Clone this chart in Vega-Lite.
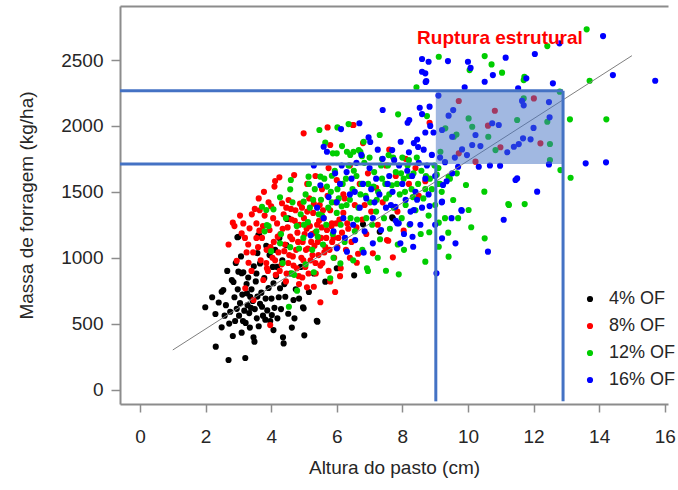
{
  "$schema": "https://vega.github.io/schema/vega-lite/v6.json",
  "width": 548,
  "height": 398,
  "padding": {"left": 120, "top": 6, "right": 10, "bottom": 86},
  "autosize": {"type": "none"},
  "background": "white",
  "config": {"view": {"stroke": null}, "font": "Liberation Sans"},
  "datasets": {
    "pts": [
      {"h":1.99,"m":624,"g":"4% OF"},{"h":2.30,"m":573,"g":"4% OF"},{"h":2.31,"m":325,"g":"4% OF"},{"h":2.49,"m":472,"g":"4% OF"},
      {"h":2.70,"m":224,"g":"4% OF"},{"h":3.21,"m":239,"g":"4% OF"},{"h":2.83,"m":406,"g":"4% OF"},{"h":3.10,"m":431,"g":"4% OF"},
      {"h":3.46,"m":396,"g":"4% OF"},{"h":3.49,"m":363,"g":"4% OF"},{"h":4.36,"m":396,"g":"4% OF"},{"h":4.38,"m":350,"g":"4% OF"},
      {"h":5.01,"m":411,"g":"4% OF"},{"h":5.41,"m":515,"g":"4% OF"},{"h":4.71,"m":540,"g":"4% OF"},{"h":2.54,"m":755,"g":"4% OF"},
      {"h":2.49,"m":742,"g":"4% OF"},{"h":2.80,"m":831,"g":"4% OF"},{"h":2.85,"m":816,"g":"4% OF"},{"h":2.97,"m":1155,"g":"4% OF"},
      {"h":3.61,"m":1172,"g":"4% OF"},{"h":4.48,"m":1294,"g":"4% OF"},{"h":3.15,"m":890,"g":"4% OF"},{"h":4.07,"m":806,"g":"4% OF"},
      {"h":4.27,"m":768,"g":"4% OF"},{"h":4.43,"m":704,"g":"4% OF"},{"h":4.02,"m":565,"g":"4% OF"},{"h":3.72,"m":628,"g":"4% OF"},
      {"h":3.56,"m":540,"g":"4% OF"},{"h":4.68,"m":679,"g":"4% OF"},{"h":4.97,"m":624,"g":"4% OF"},{"h":6.53,"m":866,"g":"4% OF"},
      {"h":6.00,"m":920,"g":"4% OF"},{"h":7.69,"m":1306,"g":"4% OF"},{"h":3.26,"m":730,"g":"4% OF"},{"h":3.36,"m":704,"g":"4% OF"},
      {"h":3.00,"m":894,"g":"4% OF"},{"h":3.10,"m":882,"g":"4% OF"},{"h":3.66,"m":957,"g":"4% OF"},{"h":4.46,"m":1096,"g":"4% OF"},
      {"h":5.65,"m":818,"g":"4% OF"},{"h":5.39,"m":522,"g":"4% OF"},{"h":4.99,"m":616,"g":"4% OF"},{"h":4.07,"m":451,"g":"4% OF"},
      {"h":2.62,"m":640,"g":"4% OF"},{"h":2.75,"m":590,"g":"4% OF"},{"h":2.88,"m":700,"g":"4% OF"},{"h":2.95,"m":612,"g":"4% OF"},
      {"h":3.02,"m":560,"g":"4% OF"},{"h":3.05,"m":655,"g":"4% OF"},{"h":3.12,"m":720,"g":"4% OF"},{"h":3.18,"m":598,"g":"4% OF"},
      {"h":3.22,"m":505,"g":"4% OF"},{"h":3.28,"m":640,"g":"4% OF"},{"h":3.33,"m":580,"g":"4% OF"},{"h":3.40,"m":760,"g":"4% OF"},
      {"h":3.44,"m":672,"g":"4% OF"},{"h":3.50,"m":610,"g":"4% OF"},{"h":3.53,"m":820,"g":"4% OF"},{"h":3.58,"m":705,"g":"4% OF"},
      {"h":3.62,"m":480,"g":"4% OF"},{"h":3.66,"m":650,"g":"4% OF"},{"h":3.70,"m":735,"g":"4% OF"},{"h":3.75,"m":560,"g":"4% OF"},
      {"h":3.79,"m":845,"g":"4% OF"},{"h":3.83,"m":690,"g":"4% OF"},{"h":3.88,"m":600,"g":"4% OF"},{"h":3.92,"m":770,"g":"4% OF"},
      {"h":3.97,"m":520,"g":"4% OF"},{"h":4.01,"m":690,"g":"4% OF"},{"h":4.05,"m":930,"g":"4% OF"},{"h":4.10,"m":620,"g":"4% OF"},
      {"h":4.15,"m":860,"g":"4% OF"},{"h":4.19,"m":540,"g":"4% OF"},{"h":4.23,"m":700,"g":"4% OF"},{"h":4.30,"m":610,"g":"4% OF"},
      {"h":4.34,"m":980,"g":"4% OF"},{"h":4.40,"m":800,"g":"4% OF"},{"h":4.52,"m":575,"g":"4% OF"},{"h":4.58,"m":880,"g":"4% OF"},
      {"h":4.63,"m":470,"g":"4% OF"},{"h":4.75,"m":760,"g":"4% OF"},{"h":4.85,"m":690,"g":"4% OF"},{"h":2.72,"m":500,"g":"4% OF"},
      {"h":2.58,"m":560,"g":"4% OF"},{"h":2.66,"m":900,"g":"4% OF"},{"h":2.92,"m":960,"g":"4% OF"},{"h":3.08,"m":1010,"g":"4% OF"},
      {"h":3.30,"m":850,"g":"4% OF"},{"h":3.47,"m":935,"g":"4% OF"},{"h":3.35,"m":470,"g":"4% OF"},{"h":3.14,"m":520,"g":"4% OF"},
      {"h":2.90,"m":520,"g":"4% OF"},{"h":3.95,"m":1020,"g":"4% OF"},{"h":4.12,"m":1060,"g":"4% OF"},{"h":4.25,"m":1150,"g":"4% OF"},
      {"h":3.85,"m":1090,"g":"4% OF"},{"h":3.58,"m":1035,"g":"4% OF"},{"h":5.15,"m":740,"g":"4% OF"},{"h":5.30,"m":880,"g":"4% OF"},
      {"h":4.90,"m":930,"g":"4% OF"},{"h":3.25,"m":800,"g":"4% OF"},{"h":2.40,"m":660,"g":"4% OF"},{"h":2.20,"m":700,"g":"4% OF"},
      {"h":6.80,"m":1253,"g":"4% OF"},{"h":7.31,"m":1197,"g":"4% OF"},{"h":7.71,"m":1299,"g":"4% OF"},{"h":4.53,"m":1299,"g":"4% OF"},
      {"h":3.00,"m":1159,"g":"4% OF"},{"h":3.64,"m":1167,"g":"4% OF"},{"h":3.38,"m":620,"g":"4% OF"},{"h":3.82,"m":530,"g":"4% OF"},
      {"h":2.98,"m":760,"g":"4% OF"},{"h":3.55,"m":880,"g":"4% OF"},{"h":4.18,"m":930,"g":"4% OF"},

      {"h":4.99,"m":1944,"g":"8% OF"},{"h":4.12,"m":1582,"g":"8% OF"},{"h":4.70,"m":1627,"g":"8% OF"},{"h":2.83,"m":1266,"g":"8% OF"},
      {"h":3.41,"m":1329,"g":"8% OF"},{"h":3.34,"m":1223,"g":"8% OF"},{"h":3.64,"m":1205,"g":"8% OF"},{"h":4.33,"m":1413,"g":"8% OF"},
      {"h":4.53,"m":1438,"g":"8% OF"},{"h":5.72,"m":1989,"g":"8% OF"},{"h":6.51,"m":2007,"g":"8% OF"},{"h":5.80,"m":1855,"g":"8% OF"},
      {"h":3.10,"m":1185,"g":"8% OF"},{"h":2.95,"m":977,"g":"8% OF"},{"h":3.21,"m":768,"g":"8% OF"},{"h":3.97,"m":489,"g":"8% OF"},
      {"h":5.50,"m":662,"g":"8% OF"},{"h":5.09,"m":775,"g":"8% OF"},{"h":6.61,"m":962,"g":"8% OF"},{"h":7.71,"m":1003,"g":"8% OF"},
      {"h":7.10,"m":1033,"g":"8% OF"},{"h":7.57,"m":1129,"g":"8% OF"},{"h":8.04,"m":1205,"g":"8% OF"},{"h":8.50,"m":1470,"g":"8% OF"},
      {"h":7.53,"m":1134,"g":"8% OF"},{"h":9.72,"m":2189,"g":"8% OF"},{"h":10.82,"m":2115,"g":"8% OF"},{"h":10.61,"m":2002,"g":"8% OF"},
      {"h":10.99,"m":1838,"g":"8% OF"},{"h":9.72,"m":1792,"g":"8% OF"},{"h":12.21,"m":1868,"g":"8% OF"},{"h":12.01,"m":2209,"g":"8% OF"},
      {"h":10.23,"m":1729,"g":"8% OF"},{"h":8.83,"m":2024,"g":"8% OF"},{"h":6.49,"m":2007,"g":"8% OF"},{"h":3.31,"m":962,"g":"8% OF"},
      {"h":3.76,"m":831,"g":"8% OF"},{"h":3.87,"m":920,"g":"8% OF"},{"h":3.46,"m":679,"g":"8% OF"},{"h":5.85,"m":1261,"g":"8% OF"},
      {"h":3.30,"m":1100,"g":"8% OF"},{"h":3.45,"m":1040,"g":"8% OF"},{"h":3.55,"m":1260,"g":"8% OF"},{"h":3.68,"m":980,"g":"8% OF"},
      {"h":3.72,"m":1150,"g":"8% OF"},{"h":3.80,"m":1320,"g":"8% OF"},{"h":3.86,"m":1060,"g":"8% OF"},{"h":3.90,"m":900,"g":"8% OF"},
      {"h":3.95,"m":1210,"g":"8% OF"},{"h":4.00,"m":1390,"g":"8% OF"},{"h":4.04,"m":1000,"g":"8% OF"},{"h":4.08,"m":1120,"g":"8% OF"},
      {"h":4.14,"m":870,"g":"8% OF"},{"h":4.18,"m":1260,"g":"8% OF"},{"h":4.22,"m":1040,"g":"8% OF"},{"h":4.28,"m":1180,"g":"8% OF"},
      {"h":4.32,"m":950,"g":"8% OF"},{"h":4.38,"m":1330,"g":"8% OF"},{"h":4.42,"m":1100,"g":"8% OF"},{"h":4.47,"m":880,"g":"8% OF"},
      {"h":4.50,"m":1230,"g":"8% OF"},{"h":4.55,"m":1020,"g":"8% OF"},{"h":4.60,"m":1370,"g":"8% OF"},{"h":4.64,"m":1140,"g":"8% OF"},
      {"h":4.68,"m":940,"g":"8% OF"},{"h":4.72,"m":1280,"g":"8% OF"},{"h":4.76,"m":1060,"g":"8% OF"},{"h":4.80,"m":1190,"g":"8% OF"},
      {"h":4.84,"m":860,"g":"8% OF"},{"h":4.88,"m":1410,"g":"8% OF"},{"h":4.92,"m":1000,"g":"8% OF"},{"h":4.96,"m":1120,"g":"8% OF"},
      {"h":5.00,"m":1300,"g":"8% OF"},{"h":5.04,"m":930,"g":"8% OF"},{"h":5.08,"m":1220,"g":"8% OF"},{"h":5.12,"m":1070,"g":"8% OF"},
      {"h":5.16,"m":1450,"g":"8% OF"},{"h":5.20,"m":980,"g":"8% OF"},{"h":5.24,"m":1180,"g":"8% OF"},{"h":5.28,"m":1340,"g":"8% OF"},
      {"h":5.32,"m":1090,"g":"8% OF"},{"h":5.36,"m":880,"g":"8% OF"},{"h":5.40,"m":1250,"g":"8% OF"},{"h":5.44,"m":1020,"g":"8% OF"},
      {"h":5.48,"m":1400,"g":"8% OF"},{"h":5.52,"m":1150,"g":"8% OF"},{"h":5.56,"m":960,"g":"8% OF"},{"h":5.60,"m":1300,"g":"8% OF"},
      {"h":5.65,"m":1080,"g":"8% OF"},{"h":5.70,"m":1210,"g":"8% OF"},{"h":5.75,"m":900,"g":"8% OF"},{"h":5.80,"m":1360,"g":"8% OF"},
      {"h":5.86,"m":1120,"g":"8% OF"},{"h":5.92,"m":1000,"g":"8% OF"},{"h":5.98,"m":1260,"g":"8% OF"},{"h":6.05,"m":1150,"g":"8% OF"},
      {"h":6.12,"m":920,"g":"8% OF"},{"h":6.20,"m":1340,"g":"8% OF"},{"h":6.28,"m":1060,"g":"8% OF"},{"h":6.35,"m":1220,"g":"8% OF"},
      {"h":6.45,"m":1120,"g":"8% OF"},{"h":6.55,"m":1400,"g":"8% OF"},{"h":6.65,"m":1030,"g":"8% OF"},{"h":6.78,"m":1290,"g":"8% OF"},
      {"h":6.90,"m":1180,"g":"8% OF"},{"h":7.05,"m":1350,"g":"8% OF"},{"h":7.25,"m":1250,"g":"8% OF"},{"h":7.40,"m":1420,"g":"8% OF"},
      {"h":7.85,"m":1350,"g":"8% OF"},{"h":8.20,"m":1560,"g":"8% OF"},{"h":2.88,"m":1240,"g":"8% OF"},{"h":3.05,"m":1320,"g":"8% OF"},
      {"h":3.20,"m":1150,"g":"8% OF"},{"h":3.25,"m":1040,"g":"8% OF"},{"h":3.50,"m":1370,"g":"8% OF"},{"h":3.62,"m":1450,"g":"8% OF"},
      {"h":3.78,"m":1500,"g":"8% OF"},{"h":3.92,"m":1420,"g":"8% OF"},{"h":4.10,"m":1540,"g":"8% OF"},{"h":4.25,"m":1610,"g":"8% OF"},
      {"h":3.40,"m":900,"g":"8% OF"},{"h":3.15,"m":1260,"g":"8% OF"},{"h":2.70,"m":1100,"g":"8% OF"},{"h":5.30,"m":780,"g":"8% OF"},
      {"h":5.80,"m":820,"g":"8% OF"},{"h":6.10,"m":860,"g":"8% OF"},{"h":4.85,"m":800,"g":"8% OF"},{"h":5.95,"m":740,"g":"8% OF"},
      {"h":5.10,"m":1560,"g":"8% OF"},{"h":5.35,"m":1620,"g":"8% OF"},{"h":5.55,"m":1520,"g":"8% OF"},{"h":5.75,"m":1680,"g":"8% OF"},
      {"h":6.00,"m":1590,"g":"8% OF"},{"h":6.20,"m":1480,"g":"8% OF"},{"h":6.40,"m":1700,"g":"8% OF"},{"h":6.70,"m":1560,"g":"8% OF"},
      {"h":6.95,"m":1640,"g":"8% OF"},{"h":7.20,"m":1530,"g":"8% OF"},{"h":7.50,"m":1700,"g":"8% OF"},{"h":7.80,"m":1620,"g":"8% OF"},
      {"h":8.10,"m":1750,"g":"8% OF"},{"h":8.40,"m":1680,"g":"8% OF"},{"h":8.70,"m":1580,"g":"8% OF"},{"h":7.60,"m":1820,"g":"8% OF"},
      {"h":6.80,"m":1870,"g":"8% OF"},{"h":3.60,"m":1080,"g":"8% OF"},{"h":3.75,"m":1240,"g":"8% OF"},{"h":3.85,"m":960,"g":"8% OF"},
      {"h":3.98,"m":1080,"g":"8% OF"},{"h":4.06,"m":1300,"g":"8% OF"},{"h":4.12,"m":980,"g":"8% OF"},{"h":4.20,"m":1160,"g":"8% OF"},
      {"h":4.26,"m":900,"g":"8% OF"},{"h":4.35,"m":1220,"g":"8% OF"},{"h":4.40,"m":1050,"g":"8% OF"},{"h":4.46,"m":1380,"g":"8% OF"},
      {"h":4.52,"m":960,"g":"8% OF"},{"h":4.58,"m":1160,"g":"8% OF"},{"h":4.62,"m":1290,"g":"8% OF"},{"h":4.66,"m":1010,"g":"8% OF"},
      {"h":4.74,"m":1360,"g":"8% OF"},{"h":4.78,"m":920,"g":"8% OF"},{"h":4.82,"m":1120,"g":"8% OF"},{"h":4.86,"m":1250,"g":"8% OF"},
      {"h":4.94,"m":1380,"g":"8% OF"},{"h":4.98,"m":980,"g":"8% OF"},{"h":5.02,"m":1180,"g":"8% OF"},{"h":5.06,"m":1060,"g":"8% OF"},
      {"h":5.10,"m":1350,"g":"8% OF"},{"h":5.14,"m":880,"g":"8% OF"},{"h":5.18,"m":1240,"g":"8% OF"},{"h":5.22,"m":1120,"g":"8% OF"},
      {"h":5.26,"m":1020,"g":"8% OF"},{"h":5.30,"m":1410,"g":"8% OF"},{"h":5.34,"m":1190,"g":"8% OF"},{"h":5.42,"m":1120,"g":"8% OF"},
      {"h":5.46,"m":1280,"g":"8% OF"},{"h":5.50,"m":940,"g":"8% OF"},{"h":5.54,"m":1230,"g":"8% OF"},{"h":5.58,"m":1360,"g":"8% OF"},
      {"h":5.62,"m":1040,"g":"8% OF"},{"h":5.68,"m":1150,"g":"8% OF"},{"h":5.72,"m":1470,"g":"8% OF"},{"h":5.78,"m":1060,"g":"8% OF"},
      {"h":5.84,"m":1240,"g":"8% OF"},{"h":5.90,"m":1150,"g":"8% OF"},{"h":5.96,"m":1420,"g":"8% OF"},{"h":6.02,"m":1080,"g":"8% OF"},
      {"h":6.08,"m":1290,"g":"8% OF"},{"h":6.16,"m":1190,"g":"8% OF"},{"h":6.24,"m":1450,"g":"8% OF"},{"h":6.32,"m":1260,"g":"8% OF"},
      {"h":6.40,"m":1000,"g":"8% OF"},{"h":6.60,"m":1230,"g":"8% OF"},{"h":6.85,"m":1400,"g":"8% OF"},{"h":4.45,"m":820,"g":"8% OF"},
      {"h":4.95,"m":850,"g":"8% OF"},{"h":5.35,"m":960,"g":"8% OF"},{"h":3.55,"m":1150,"g":"8% OF"},{"h":3.65,"m":1360,"g":"8% OF"},

      {"h":13.62,"m":2733,"g":"12% OF"},{"h":12.42,"m":2606,"g":"12% OF"},{"h":10.51,"m":2530,"g":"12% OF"},{"h":10.72,"m":2467,"g":"12% OF"},
      {"h":9.11,"m":2525,"g":"12% OF"},{"h":10.05,"m":2424,"g":"12% OF"},{"h":11.04,"m":2404,"g":"12% OF"},{"h":11.70,"m":2348,"g":"12% OF"},
      {"h":11.72,"m":2372,"g":"12% OF"},{"h":13.71,"m":2343,"g":"12% OF"},{"h":13.11,"m":2050,"g":"12% OF"},{"h":14.22,"m":2050,"g":"12% OF"},
      {"h":12.82,"m":1665,"g":"12% OF"},{"h":13.13,"m":1607,"g":"12% OF"},{"h":11.25,"m":1400,"g":"12% OF"},{"h":11.73,"m":1407,"g":"12% OF"},
      {"h":10.51,"m":1147,"g":"12% OF"},{"h":10.10,"m":1231,"g":"12% OF"},{"h":9.41,"m":1008,"g":"12% OF"},{"h":8.70,"m":970,"g":"12% OF"},
      {"h":9.11,"m":1083,"g":"12% OF"},{"h":7.89,"m":874,"g":"12% OF"},{"h":7.50,"m":901,"g":"12% OF"},{"h":8.82,"m":1193,"g":"12% OF"},
      {"h":9.11,"m":1266,"g":"12% OF"},{"h":10.02,"m":1362,"g":"12% OF"},{"h":10.02,"m":2057,"g":"12% OF"},{"h":9.57,"m":1918,"g":"12% OF"},
      {"h":9.65,"m":1935,"g":"12% OF"},{"h":9.31,"m":1982,"g":"12% OF"},{"h":10.62,"m":1918,"g":"12% OF"},{"h":11.50,"m":2045,"g":"12% OF"},
      {"h":12.42,"m":2032,"g":"12% OF"},{"h":12.50,"m":1863,"g":"12% OF"},{"h":11.70,"m":2209,"g":"12% OF"},{"h":12.80,"m":2260,"g":"12% OF"},
      {"h":10.84,"m":1817,"g":"12% OF"},{"h":10.13,"m":1994,"g":"12% OF"},{"h":9.16,"m":1804,"g":"12% OF"},{"h":12.50,"m":1741,"g":"12% OF"},
      {"h":5.47,"m":1969,"g":"12% OF"},{"h":6.02,"m":1989,"g":"12% OF"},{"h":6.36,"m":2014,"g":"12% OF"},{"h":5.65,"m":1873,"g":"12% OF"},
      {"h":6.00,"m":1792,"g":"12% OF"},{"h":6.16,"m":1847,"g":"12% OF"},{"h":6.31,"m":1804,"g":"12% OF"},{"h":6.51,"m":1804,"g":"12% OF"},
      {"h":6.72,"m":1804,"g":"12% OF"},{"h":7.87,"m":2088,"g":"12% OF"},{"h":8.75,"m":2075,"g":"12% OF"},{"h":7.31,"m":1931,"g":"12% OF"},
      {"h":6.82,"m":1880,"g":"12% OF"},{"h":8.43,"m":2293,"g":"12% OF"},{"h":5.88,"m":1792,"g":"12% OF"},{"h":6.41,"m":1780,"g":"12% OF"},
      {"h":6.67,"m":1817,"g":"12% OF"},{"h":6.77,"m":1770,"g":"12% OF"},{"h":7.38,"m":1749,"g":"12% OF"},{"h":7.58,"m":1779,"g":"12% OF"},
      {"h":8.00,"m":1760,"g":"12% OF"},{"h":8.20,"m":1740,"g":"12% OF"},{"h":4.60,"m":1590,"g":"12% OF"},{"h":4.58,"m":1519,"g":"12% OF"},
      {"h":4.27,"m":1458,"g":"12% OF"},{"h":3.72,"m":1387,"g":"12% OF"},{"h":4.07,"m":1367,"g":"12% OF"},{"h":3.87,"m":1248,"g":"12% OF"},
      {"h":5.14,"m":1615,"g":"12% OF"},{"h":5.50,"m":1615,"g":"12% OF"},{"h":5.85,"m":1622,"g":"12% OF"},{"h":4.99,"m":1425,"g":"12% OF"},
      {"h":4.30,"m":1180,"g":"12% OF"},{"h":4.45,"m":1300,"g":"12% OF"},{"h":4.58,"m":1080,"g":"12% OF"},{"h":4.65,"m":1420,"g":"12% OF"},
      {"h":4.78,"m":1240,"g":"12% OF"},{"h":4.90,"m":1330,"g":"12% OF"},{"h":4.98,"m":1150,"g":"12% OF"},{"h":5.05,"m":1480,"g":"12% OF"},
      {"h":5.12,"m":1270,"g":"12% OF"},{"h":5.18,"m":1380,"g":"12% OF"},{"h":5.25,"m":1060,"g":"12% OF"},{"h":5.33,"m":1520,"g":"12% OF"},
      {"h":5.38,"m":1200,"g":"12% OF"},{"h":5.45,"m":1330,"g":"12% OF"},{"h":5.52,"m":1440,"g":"12% OF"},{"h":5.58,"m":1100,"g":"12% OF"},
      {"h":5.62,"m":1600,"g":"12% OF"},{"h":5.68,"m":1250,"g":"12% OF"},{"h":5.74,"m":1380,"g":"12% OF"},{"h":5.82,"m":1500,"g":"12% OF"},
      {"h":5.88,"m":1180,"g":"12% OF"},{"h":5.94,"m":1660,"g":"12% OF"},{"h":6.00,"m":1340,"g":"12% OF"},{"h":6.06,"m":1450,"g":"12% OF"},
      {"h":6.12,"m":1250,"g":"12% OF"},{"h":6.18,"m":1560,"g":"12% OF"},{"h":6.24,"m":1120,"g":"12% OF"},{"h":6.30,"m":1400,"g":"12% OF"},
      {"h":6.36,"m":1700,"g":"12% OF"},{"h":6.42,"m":1300,"g":"12% OF"},{"h":6.48,"m":1520,"g":"12% OF"},{"h":6.55,"m":1200,"g":"12% OF"},
      {"h":6.60,"m":1620,"g":"12% OF"},{"h":6.66,"m":1380,"g":"12% OF"},{"h":6.72,"m":1480,"g":"12% OF"},{"h":6.78,"m":1060,"g":"12% OF"},
      {"h":6.84,"m":1720,"g":"12% OF"},{"h":6.90,"m":1300,"g":"12% OF"},{"h":6.96,"m":1560,"g":"12% OF"},{"h":7.02,"m":1420,"g":"12% OF"},
      {"h":7.08,"m":1250,"g":"12% OF"},{"h":7.14,"m":1650,"g":"12% OF"},{"h":7.20,"m":1350,"g":"12% OF"},{"h":7.26,"m":1500,"g":"12% OF"},
      {"h":7.32,"m":1140,"g":"12% OF"},{"h":7.38,"m":1600,"g":"12% OF"},{"h":7.44,"m":1300,"g":"12% OF"},{"h":7.50,"m":1450,"g":"12% OF"},
      {"h":7.56,"m":1700,"g":"12% OF"},{"h":7.62,"m":1220,"g":"12% OF"},{"h":7.68,"m":1550,"g":"12% OF"},{"h":7.74,"m":1380,"g":"12% OF"},
      {"h":7.80,"m":1650,"g":"12% OF"},{"h":7.86,"m":1100,"g":"12% OF"},{"h":7.92,"m":1480,"g":"12% OF"},{"h":7.98,"m":1300,"g":"12% OF"},
      {"h":8.04,"m":1600,"g":"12% OF"},{"h":8.10,"m":1400,"g":"12% OF"},{"h":8.16,"m":1700,"g":"12% OF"},{"h":8.22,"m":1250,"g":"12% OF"},
      {"h":8.28,"m":1520,"g":"12% OF"},{"h":8.34,"m":1640,"g":"12% OF"},{"h":8.40,"m":1360,"g":"12% OF"},{"h":8.48,"m":1560,"g":"12% OF"},
      {"h":8.56,"m":1180,"g":"12% OF"},{"h":8.64,"m":1450,"g":"12% OF"},{"h":8.72,"m":1620,"g":"12% OF"},{"h":8.80,"m":1320,"g":"12% OF"},
      {"h":8.90,"m":1520,"g":"12% OF"},{"h":9.00,"m":1400,"g":"12% OF"},{"h":9.10,"m":1680,"g":"12% OF"},{"h":9.20,"m":1500,"g":"12% OF"},
      {"h":9.30,"m":1300,"g":"12% OF"},{"h":9.45,"m":1600,"g":"12% OF"},{"h":9.40,"m":1190,"g":"12% OF"},{"h":9.70,"m":1300,"g":"12% OF"},
      {"h":8.05,"m":1060,"g":"12% OF"},{"h":7.25,"m":1000,"g":"12% OF"},{"h":6.50,"m":980,"g":"12% OF"},{"h":5.90,"m":1000,"g":"12% OF"},
      {"h":6.95,"m":900,"g":"12% OF"},{"h":4.00,"m":1050,"g":"12% OF"},{"h":4.35,"m":960,"g":"12% OF"},{"h":4.70,"m":870,"g":"12% OF"},
      {"h":5.05,"m":950,"g":"12% OF"},{"h":3.80,"m":1200,"g":"12% OF"},{"h":5.30,"m":890,"g":"12% OF"},{"h":4.85,"m":1070,"g":"12% OF"},
      {"h":4.54,"m":628,"g":"12% OF"},{"h":4.79,"m":750,"g":"12% OF"},{"h":4.63,"m":882,"g":"12% OF"},{"h":5.80,"m":844,"g":"12% OF"},
      {"h":6.11,"m":957,"g":"12% OF"},{"h":6.92,"m":920,"g":"12% OF"},{"h":4.27,"m":1109,"g":"12% OF"},{"h":3.85,"m":1362,"g":"12% OF"},
      {"h":3.92,"m":1240,"g":"12% OF"},{"h":5.00,"m":1250,"g":"12% OF"},{"h":5.15,"m":1560,"g":"12% OF"},{"h":5.28,"m":1440,"g":"12% OF"},
      {"h":5.42,"m":1160,"g":"12% OF"},{"h":5.55,"m":1320,"g":"12% OF"},{"h":5.70,"m":1540,"g":"12% OF"},{"h":5.85,"m":1420,"g":"12% OF"},
      {"h":6.02,"m":1520,"g":"12% OF"},{"h":6.15,"m":1390,"g":"12% OF"},{"h":6.28,"m":1600,"g":"12% OF"},{"h":6.40,"m":1440,"g":"12% OF"},
      {"h":6.52,"m":1660,"g":"12% OF"},{"h":6.62,"m":1290,"g":"12% OF"},{"h":6.75,"m":1560,"g":"12% OF"},{"h":6.88,"m":1470,"g":"12% OF"},
      {"h":7.00,"m":1760,"g":"12% OF"},{"h":7.12,"m":1540,"g":"12% OF"},{"h":7.22,"m":1440,"g":"12% OF"},{"h":7.35,"m":1700,"g":"12% OF"},
      {"h":7.48,"m":1560,"g":"12% OF"},{"h":7.60,"m":1480,"g":"12% OF"},{"h":7.72,"m":1760,"g":"12% OF"},{"h":7.84,"m":1560,"g":"12% OF"},
      {"h":7.96,"m":1640,"g":"12% OF"},{"h":8.08,"m":1500,"g":"12% OF"},{"h":8.20,"m":1620,"g":"12% OF"},{"h":8.32,"m":1460,"g":"12% OF"},
      {"h":8.44,"m":1760,"g":"12% OF"},{"h":8.58,"m":1660,"g":"12% OF"},{"h":8.70,"m":1520,"g":"12% OF"},{"h":8.84,"m":1600,"g":"12% OF"},
      {"h":8.98,"m":1700,"g":"12% OF"},{"h":9.15,"m":1560,"g":"12% OF"},{"h":9.41,"m":1614,"g":"12% OF"},{"h":9.66,"m":1640,"g":"12% OF"},
      {"h":9.94,"m":1552,"g":"12% OF"},{"h":10.50,"m":1501,"g":"12% OF"},{"h":11.23,"m":1407,"g":"12% OF"},{"h":9.55,"m":1438,"g":"12% OF"},
      {"h":9.05,"m":1630,"g":"12% OF"},{"h":9.10,"m":1560,"g":"12% OF"},

      {"h":15.71,"m":2343,"g":"16% OF"},{"h":14.12,"m":2682,"g":"16% OF"},{"h":14.42,"m":2386,"g":"16% OF"},{"h":12.79,"m":2627,"g":"16% OF"},
      {"h":12.04,"m":2546,"g":"16% OF"},{"h":11.15,"m":2518,"g":"16% OF"},{"h":8.60,"m":2508,"g":"16% OF"},{"h":8.80,"m":2487,"g":"16% OF"},
      {"h":9.39,"m":2492,"g":"16% OF"},{"h":10.00,"m":2487,"g":"16% OF"},{"h":10.08,"m":2440,"g":"16% OF"},{"h":8.60,"m":2411,"g":"16% OF"},
      {"h":8.70,"m":2399,"g":"16% OF"},{"h":8.73,"m":2341,"g":"16% OF"},{"h":10.51,"m":2335,"g":"16% OF"},{"h":10.76,"m":2386,"g":"16% OF"},
      {"h":11.78,"m":2361,"g":"16% OF"},{"h":12.59,"m":2323,"g":"16% OF"},{"h":9.90,"m":2293,"g":"16% OF"},{"h":11.53,"m":2285,"g":"16% OF"},
      {"h":13.59,"m":1716,"g":"16% OF"},{"h":14.21,"m":1724,"g":"16% OF"},{"h":11.45,"m":1590,"g":"16% OF"},{"h":11.50,"m":1602,"g":"16% OF"},
      {"h":12.11,"m":1501,"g":"16% OF"},{"h":11.09,"m":1288,"g":"16% OF"},{"h":10.61,"m":1046,"g":"16% OF"},{"h":9.62,"m":1109,"g":"16% OF"},
      {"h":9.21,"m":1147,"g":"16% OF"},{"h":8.33,"m":1083,"g":"16% OF"},{"h":8.31,"m":1159,"g":"16% OF"},{"h":9.80,"m":1362,"g":"16% OF"},
      {"h":7.94,"m":1109,"g":"16% OF"},{"h":7.89,"m":1261,"g":"16% OF"},{"h":8.24,"m":1256,"g":"16% OF"},{"h":9.04,"m":882,"g":"16% OF"},
      {"h":7.40,"m":2121,"g":"16% OF"},{"h":8.53,"m":2138,"g":"16% OF"},{"h":8.83,"m":2146,"g":"16% OF"},{"h":8.21,"m":2045,"g":"16% OF"},
      {"h":8.16,"m":2024,"g":"16% OF"},{"h":6.69,"m":2020,"g":"16% OF"},{"h":6.13,"m":1976,"g":"16% OF"},{"h":6.97,"m":1913,"g":"16% OF"},
      {"h":7.02,"m":1878,"g":"16% OF"},{"h":7.69,"m":1817,"g":"16% OF"},{"h":8.45,"m":1897,"g":"16% OF"},{"h":8.35,"m":1870,"g":"16% OF"},
      {"h":8.48,"m":1840,"g":"16% OF"},{"h":8.71,"m":2333,"g":"16% OF"},{"h":5.60,"m":1842,"g":"16% OF"},{"h":5.70,"m":1804,"g":"16% OF"},
      {"h":8.85,"m":2000,"g":"16% OF"},{"h":8.95,"m":1950,"g":"16% OF"},{"h":8.70,"m":1950,"g":"16% OF"},{"h":8.60,"m":2090,"g":"16% OF"},
      {"h":9.41,"m":2078,"g":"16% OF"},{"h":9.21,"m":1969,"g":"16% OF"},{"h":9.52,"m":1918,"g":"16% OF"},{"h":9.82,"m":1822,"g":"16% OF"},
      {"h":10.13,"m":1855,"g":"16% OF"},{"h":10.38,"m":1847,"g":"16% OF"},{"h":10.23,"m":1931,"g":"16% OF"},{"h":10.74,"m":2020,"g":"16% OF"},
      {"h":10.94,"m":2007,"g":"16% OF"},{"h":11.40,"m":1842,"g":"16% OF"},{"h":11.55,"m":1862,"g":"16% OF"},{"h":11.68,"m":1906,"g":"16% OF"},
      {"h":11.91,"m":1898,"g":"16% OF"},{"h":12.47,"m":2181,"g":"16% OF"},{"h":12.49,"m":2065,"g":"16% OF"},{"h":11.70,"m":2156,"g":"16% OF"},
      {"h":11.65,"m":2190,"g":"16% OF"},{"h":9.97,"m":1779,"g":"16% OF"},{"h":9.60,"m":1760,"g":"16% OF"},{"h":12.47,"m":1708,"g":"16% OF"},
      {"h":9.30,"m":1725,"g":"16% OF"},{"h":9.10,"m":2230,"g":"16% OF"},{"h":9.55,"m":2120,"g":"16% OF"},{"h":12.00,"m":1985,"g":"16% OF"},
      {"h":11.20,"m":1800,"g":"16% OF"},{"h":9.15,"m":1760,"g":"16% OF"},{"h":10.33,"m":1690,"g":"16% OF"},{"h":10.67,"m":1700,"g":"16% OF"},
      {"h":10.98,"m":1698,"g":"16% OF"},{"h":9.70,"m":1690,"g":"16% OF"},{"h":9.24,"m":1552,"g":"16% OF"},{"h":9.52,"m":1640,"g":"16% OF"},
      {"h":9.81,"m":1357,"g":"16% OF"},{"h":8.83,"m":1392,"g":"16% OF"},{"h":9.21,"m":1425,"g":"16% OF"},{"h":7.79,"m":1387,"g":"16% OF"},
      {"h":8.35,"m":1362,"g":"16% OF"},{"h":7.84,"m":1261,"g":"16% OF"},{"h":7.10,"m":1109,"g":"16% OF"},{"h":6.82,"m":1038,"g":"16% OF"},
      {"h":6.31,"m":1046,"g":"16% OF"},{"h":6.56,"m":1134,"g":"16% OF"},{"h":6.00,"m":1071,"g":"16% OF"},
      {"h":6.00,"m":1420,"g":"16% OF"},{"h":6.10,"m":1560,"g":"16% OF"},{"h":6.20,"m":1300,"g":"16% OF"},{"h":6.30,"m":1650,"g":"16% OF"},
      {"h":6.40,"m":1480,"g":"16% OF"},{"h":6.50,"m":1250,"g":"16% OF"},{"h":6.60,"m":1720,"g":"16% OF"},{"h":6.70,"m":1380,"g":"16% OF"},
      {"h":6.80,"m":1560,"g":"16% OF"},{"h":6.90,"m":1450,"g":"16% OF"},{"h":7.00,"m":1680,"g":"16% OF"},{"h":7.10,"m":1300,"g":"16% OF"},
      {"h":7.20,"m":1600,"g":"16% OF"},{"h":7.30,"m":1480,"g":"16% OF"},{"h":7.40,"m":1750,"g":"16% OF"},{"h":7.50,"m":1380,"g":"16% OF"},
      {"h":7.60,"m":1620,"g":"16% OF"},{"h":7.70,"m":1500,"g":"16% OF"},{"h":7.80,"m":1280,"g":"16% OF"},{"h":7.90,"m":1700,"g":"16% OF"},
      {"h":8.00,"m":1560,"g":"16% OF"},{"h":8.10,"m":1440,"g":"16% OF"},{"h":8.20,"m":1800,"g":"16% OF"},{"h":8.30,"m":1620,"g":"16% OF"},
      {"h":8.40,"m":1500,"g":"16% OF"},{"h":8.50,"m":1720,"g":"16% OF"},{"h":8.60,"m":1380,"g":"16% OF"},{"h":8.70,"m":1600,"g":"16% OF"},
      {"h":8.80,"m":1480,"g":"16% OF"},{"h":8.90,"m":1780,"g":"16% OF"},{"h":9.00,"m":1620,"g":"16% OF"},{"h":9.20,"m":1420,"g":"16% OF"},
      {"h":9.35,"m":1580,"g":"16% OF"},{"h":5.60,"m":1300,"g":"16% OF"},{"h":5.75,"m":1460,"g":"16% OF"},{"h":5.90,"m":1200,"g":"16% OF"},
      {"h":5.40,"m":1380,"g":"16% OF"},{"h":6.25,"m":1150,"g":"16% OF"},{"h":6.85,"m":1200,"g":"16% OF"},{"h":7.35,"m":1210,"g":"16% OF"},
      {"h":8.05,"m":1180,"g":"16% OF"},{"h":8.55,"m":1250,"g":"16% OF"},{"h":9.50,"m":1300,"g":"16% OF"},{"h":9.00,"m":1250,"g":"16% OF"},
      {"h":5.20,"m":1170,"g":"16% OF"},{"h":5.50,"m":1550,"g":"16% OF"},{"h":6.45,"m":1600,"g":"16% OF"},{"h":7.05,"m":1520,"g":"16% OF"},
      {"h":7.65,"m":1400,"g":"16% OF"},{"h":8.25,"m":1350,"g":"16% OF"},{"h":8.75,"m":1700,"g":"16% OF"},{"h":6.15,"m":1700,"g":"16% OF"},
      {"h":6.75,"m":1780,"g":"16% OF"},{"h":7.25,"m":1820,"g":"16% OF"},{"h":7.95,"m":1880,"g":"16% OF"},{"h":5.95,"m":1640,"g":"16% OF"},
      {"h":5.30,"m":1700,"g":"16% OF"},{"h":7.55,"m":1560,"g":"16% OF"},{"h":8.15,"m":1660,"g":"16% OF"},{"h":8.65,"m":1820,"g":"16% OF"},
      {"h":6.55,"m":1500,"g":"16% OF"},{"h":7.15,"m":1420,"g":"16% OF"},{"h":7.75,"m":1740,"g":"16% OF"},{"h":8.45,"m":1440,"g":"16% OF"}
    ],
    "fit": [
      {"h": 1, "m": 300},
      {"h": 15, "m": 2533}
    ],
    "zone": [
      {"x1": 9.02, "x2": 12.9, "y1": 1711, "y2": 2267}
    ],
    "guides": [
      {"x1": -0.61, "x2": 12.9, "y1": 2267, "y2": 2267},
      {"x1": -0.61, "x2": 9.02, "y1": 1711, "y2": 1711},
      {"x1": 9.02, "x2": 9.02, "y1": -90, "y2": 1711},
      {"x1": 12.9, "x2": 12.9, "y1": -90, "y2": 2267}
    ],
    "note": [
      {"h": 8.45, "m": 2667, "label": "Ruptura estrutural"}
    ]
  },
  "resolve": {"axis": {"x": "independent", "y": "independent"}},
  "layer": [
    {
      "data": {"name": "pts"},
      "mark": {"type": "point", "filled": true, "opacity": 1, "size": 38, "strokeWidth": 0},
      "encoding": {
        "x": {
          "field": "h", "type": "quantitative",
          "scale": {"domain": [-0.61, 16.1], "nice": false, "zero": false},
          "axis": {
            "orient": "bottom", "values": [0, 2, 4, 6, 8, 10, 12, 14, 16], "grid": false,
            "domainColor": "#8c8c8c", "domainWidth": 2, "tickColor": "#8c8c8c", "tickWidth": 1.5, "tickSize": 8,
            "labelFont": "Liberation Sans", "labelFontSize": 19, "labelColor": "#262626", "labelPadding": 15,
            "title": "Altura do pasto (cm)", "titleFont": "Liberation Sans", "titleFontSize": 19,
            "titleFontWeight": "normal", "titleColor": "#262626", "titlePadding": 12
          }
        },
        "y": {
          "field": "m", "type": "quantitative",
          "scale": {"domain": [-110, 2910], "nice": false, "zero": false},
          "axis": {
            "orient": "left", "values": [0, 500, 1000, 1500, 2000, 2500], "format": "d", "grid": false,
            "domainColor": "#8c8c8c", "domainWidth": 2, "tickColor": "#8c8c8c", "tickWidth": 1.5, "tickSize": 9,
            "labelFont": "Liberation Sans", "labelFontSize": 19, "labelColor": "#262626", "labelPadding": 8,
            "title": "Massa de forragem (kg/ha)", "titleFont": "Liberation Sans", "titleFontSize": 19,
            "titleFontWeight": "normal", "titleColor": "#262626", "titlePadding": 24
          }
        },
        "color": {
          "field": "g", "type": "nominal",
          "scale": {"domain": ["4% OF", "8% OF", "12% OF", "16% OF"], "range": ["#000000", "#ff0000", "#00cd00", "#0000ff"]},
          "legend": {
            "orient": "none", "legendX": 461, "legendY": 284, "title": null,
            "symbolType": "circle", "symbolSize": 38, "symbolStrokeWidth": 0,
            "labelFont": "Liberation Sans", "labelFontSize": 18, "labelColor": "#262626",
            "labelOffset": 10, "rowPadding": 9, "padding": 0,
            "labelExpr": "length(datum.label) < 6 ? '\u2007' + datum.label : datum.label"
          }
        }
      }
    },
    {
      "data": {"name": "fit"},
      "mark": {"type": "line", "color": "#7f7f7f", "strokeWidth": 1},
      "encoding": {
        "x": {
          "field": "h", "type": "quantitative",
          "scale": {"domain": [-0.61, 16.1], "nice": false, "zero": false},
          "axis": {"orient": "top", "labels": false, "ticks": false, "title": null, "grid": false, "domainColor": "#8c8c8c", "domainWidth": 2}
        },
        "y": {"field": "m", "type": "quantitative", "scale": {"domain": [-110, 2910], "nice": false, "zero": false}, "axis": null}
      }
    },
    {
      "data": {"name": "zone"},
      "mark": {"type": "rect", "color": "#4472c4", "opacity": 0.5},
      "encoding": {
        "x": {"field": "x1", "type": "quantitative", "scale": {"domain": [-0.61, 16.1], "nice": false, "zero": false}, "axis": null},
        "x2": {"field": "x2"},
        "y": {"field": "y1", "type": "quantitative", "scale": {"domain": [-110, 2910], "nice": false, "zero": false}, "axis": null},
        "y2": {"field": "y2"}
      }
    },
    {
      "data": {"name": "guides"},
      "mark": {"type": "rule", "color": "#4472c4", "strokeWidth": 3},
      "encoding": {
        "x": {"field": "x1", "type": "quantitative", "scale": {"domain": [-0.61, 16.1], "nice": false, "zero": false}, "axis": null},
        "x2": {"field": "x2"},
        "y": {"field": "y1", "type": "quantitative", "scale": {"domain": [-110, 2910], "nice": false, "zero": false}, "axis": null},
        "y2": {"field": "y2"}
      }
    },
    {
      "data": {"name": "note"},
      "mark": {"type": "text", "align": "left", "baseline": "middle", "font": "Liberation Sans", "fontSize": 19, "fontWeight": "bold", "color": "#ff0000"},
      "encoding": {
        "x": {"field": "h", "type": "quantitative", "scale": {"domain": [-0.61, 16.1], "nice": false, "zero": false}, "axis": null},
        "y": {"field": "m", "type": "quantitative", "scale": {"domain": [-110, 2910], "nice": false, "zero": false}, "axis": null},
        "text": {"field": "label"}
      }
    }
  ]
}
